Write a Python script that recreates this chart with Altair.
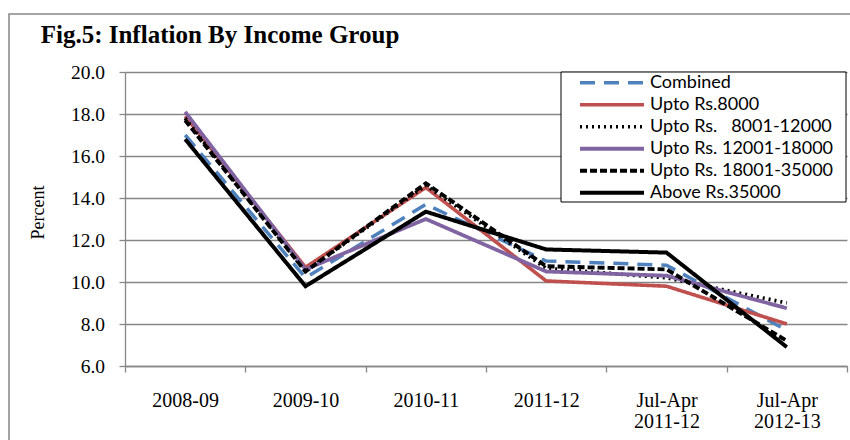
import altair as alt
import pandas as pd

title_text = "Fig.5: Inflation By Income Group"
categories = ["2008-09", "2009-10", "2010-11", "2011-12", "Jul-Apr 2011-12", "Jul-Apr 2012-13"]
series_names = [
    "Combined",
    "Upto Rs.8000",
    "Upto Rs.\u00a0\u00a0\u00a08001-12000",
    "Upto Rs. 12001-18000",
    "Upto Rs. 18001-35000",
    "Above Rs.35000",
]
combined = [17.0, 10.2, 13.7, 11.0, 10.8, 7.7]
upto_8000 = [17.9, 10.7, 14.5, 10.05, 9.8, 8.0]
upto_8001_12000 = [17.8, 10.5, 14.6, 10.65, 10.2, 9.0]
upto_12001_18000 = [18.1, 10.6, 13.0, 10.5, 10.3, 8.75]
upto_18001_35000 = [17.7, 10.5, 14.7, 10.75, 10.6, 7.2]
above_35000 = [16.8, 9.8, 13.35, 11.55, 11.4, 6.9]
y_ticks = [6, 8, 10, 12, 14, 16, 18, 20]

colors = ["#4F81BD", "#C0504D", "#000000", "#8064A2", "#000000", "#000000"]
dashes = [[15, 9], [1, 0], [2, 4], [1, 0], [7, 3], [1, 0]]
widths = [3.5, 4, 3, 3, 2.5, 2]

all_values = [combined, upto_8000, upto_8001_12000, upto_12001_18000, upto_18001_35000, above_35000]
rows = []
for s, vals in zip(series_names, all_values):
    for c, v in zip(categories, vals):
        rows.append({"period": c, "series": s, "value": v})
df = pd.DataFrame(rows)

GRID = "#868686"

legend = alt.Legend(
    title=None,
    orient="none",
    legendX=436,
    legendY=0,
    padding=0,
    symbolType="stroke",
    symbolSize=4096,
    symbolOffset=17,
    clipHeight=21.5,
    rowPadding=0,
    labelOffset=4,
    labelFont="Lato",
    labelFontSize=18,
    labelColor="black",
    labelLimit=400,
)

x_axis = alt.Axis(
    title=None,
    domainColor=GRID,
    domainWidth=1.3,
    tickColor=GRID,
    tickWidth=1.3,
    tickSize=6,
    tickBand="extent",
    labelFont="Liberation Serif",
    labelFontSize=20,
    labelColor="black",
    labelAngle=0,
    labelPadding=18,
    labelBaseline="top",
    labelLineHeight=21.5,
    labelExpr="split(datum.label, ' ')",
    grid=False,
)

y_axis = alt.Axis(
    values=y_ticks,
    format=".1f",
    domainColor=GRID,
    domainWidth=1.3,
    tickColor=GRID,
    tickWidth=1.3,
    tickSize=6,
    labelPadding=14.5,
    labelFont="Liberation Serif",
    labelFontSize=19.5,
    labelColor="black",
    grid=True,
    gridColor=GRID,
    gridWidth=1.3,
    title="Percent",
    titleFont="Liberation Serif",
    titleFontSize=18,
    titleFontWeight="normal",
    titleColor="black",
    titleX=-87,
    titleY=140,
    titleBaseline="middle",
)

x_enc = alt.X(
    "period:N",
    sort=categories,
    scale=alt.Scale(type="band", paddingInner=0, paddingOuter=0, domain=categories),
    bandPosition=0.5,
    axis=x_axis,
)
y_enc = alt.Y("value:Q", scale=alt.Scale(domain=[6, 20], nice=False, zero=False), axis=y_axis)

one = pd.DataFrame({"a": [0]})

frame = alt.Chart(one).mark_rect(
    fillOpacity=0, stroke=GRID, strokeWidth=1.5
).encode(x=alt.value(-116), x2=alt.value(900), y=alt.value(-58), y2=alt.value(500))

title_mark = alt.Chart(one).mark_text(
    font="Liberation Serif", fontSize=25, fontWeight="bold", color="black",
    align="left", baseline="alphabetic",
).encode(x=alt.value(-84.3), y=alt.value(-28.7), text=alt.value(title_text))

layers = [frame, title_mark]
for name in series_names:
    layers.append(
        alt.Chart(df)
        .transform_filter(alt.datum.series == name)
        .mark_line()
        .encode(
            x=x_enc,
            y=y_enc,
            color=alt.Color("series:N", scale=alt.Scale(domain=series_names, range=colors), legend=legend),
            strokeDash=alt.StrokeDash("series:N", scale=alt.Scale(domain=series_names, range=dashes), legend=legend),
            strokeWidth=alt.StrokeWidth("series:N", scale=alt.Scale(domain=series_names, range=widths), legend=legend),
        )
    )

legend_box = alt.Chart(one).mark_rect(
    fill="white", stroke="black", strokeWidth=1
).encode(x=alt.value(436), x2=alt.value(721), y=alt.value(0), y2=alt.value(130))
layers.append(legend_box)

chart = (
    alt.layer(*layers)
    .properties(
        width=722,
        height=294,
        autosize=alt.AutoSizeParams(type="none"),
        padding={"left": 125, "top": 72, "right": 3, "bottom": 74},
        background="white",
    )
    .configure_view(stroke=None)
)

chart.save("out.html", embed_options={"renderer": "svg", "actions": False})
